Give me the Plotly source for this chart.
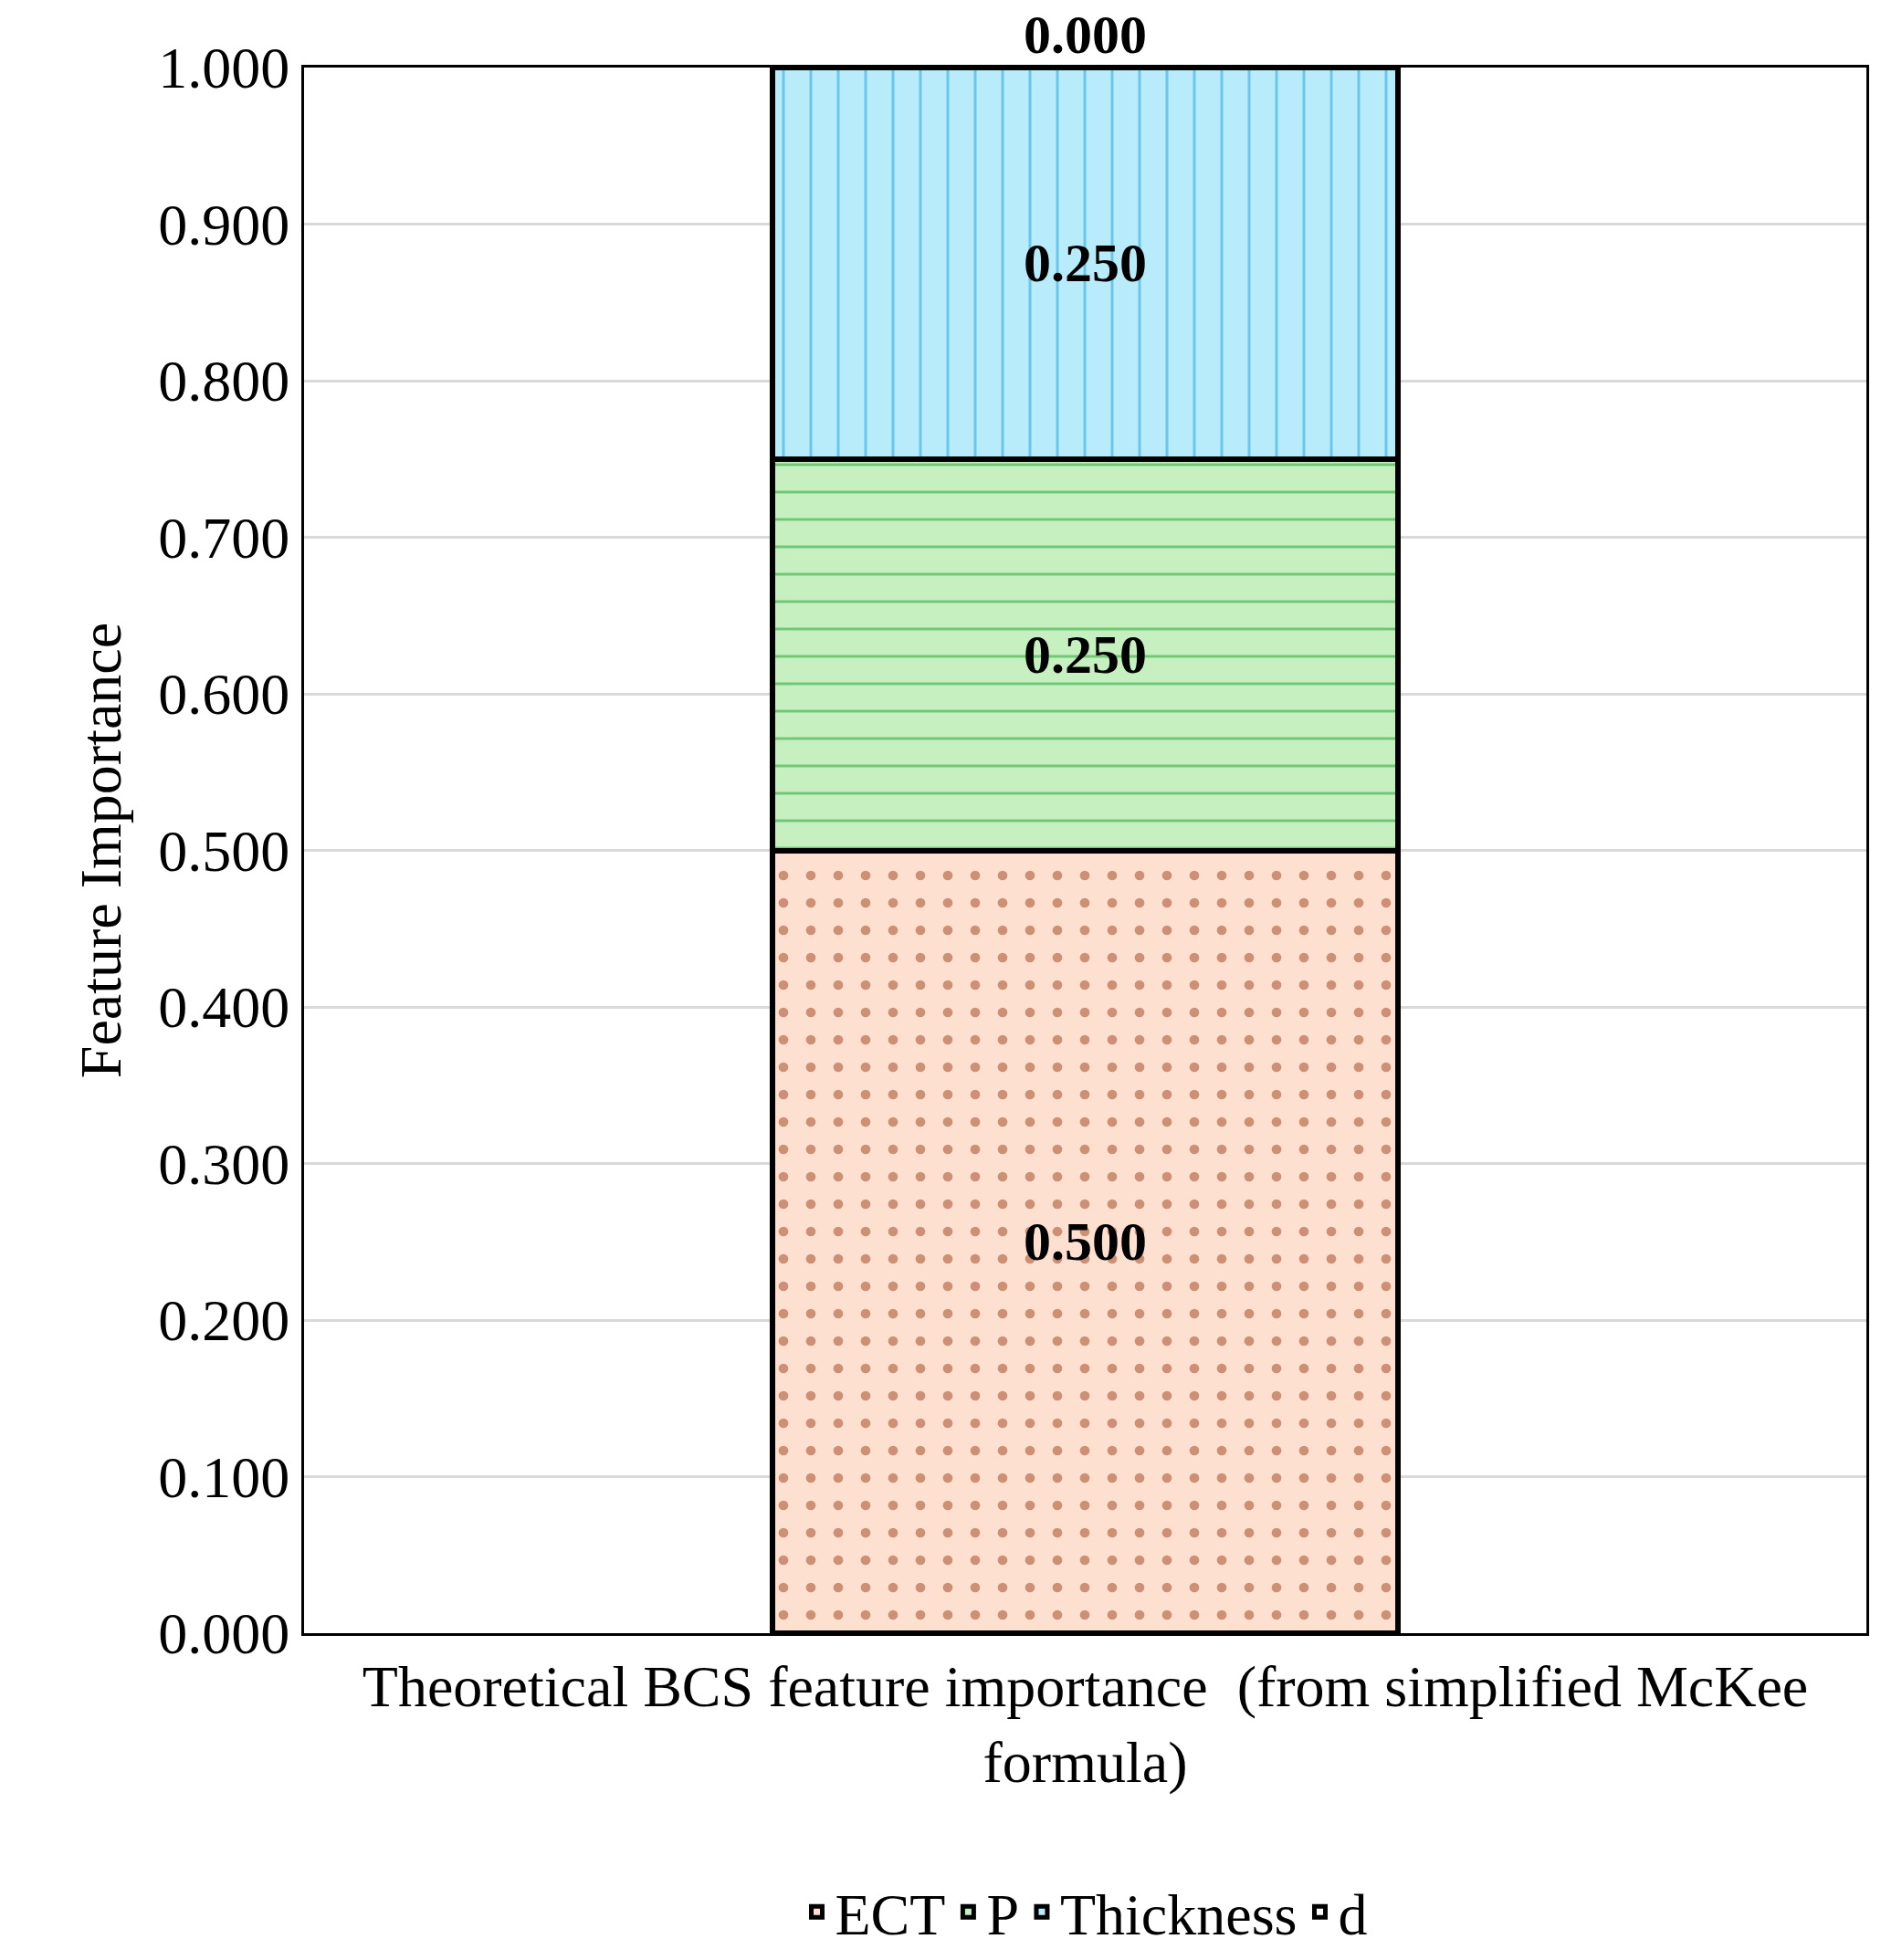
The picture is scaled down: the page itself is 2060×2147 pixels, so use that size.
import plotly.graph_objects as go

categories = ["Theoretical BCS feature importance  (from simplified McKee<br>formula)"]
series = ["ECT", "P", "Thickness", "d"]
values = [[0.5], [0.25], [0.25], [0.0]]
fills = ["#fde0d0", "#c6f0c0", "#b8ecfb"]
pat_colors = ["#a0401a", "#1e9e2e", "#1e9ee0"]
shapes = [".", "-", "|"]
tick_vals = [i / 10 for i in range(11)]
tick_text = [f"{v:.3f}" for v in tick_vals]

font = "Liberation Serif"
fig = go.Figure()
for i, name in enumerate(series):
    if i < 3:
        marker = dict(color=fills[i], line=dict(color="black", width=6),
                      pattern=dict(shape=shapes[i], fgcolor=pat_colors[i], bgcolor=fills[i],
                                   size=30, solidity=0.1, fillmode="overlay"))
        pos = "inside"
    else:
        marker = dict(color="white", line=dict(color="black", width=6))
        pos = "outside"
    fig.add_trace(go.Bar(x=categories, y=values[i], name=name, marker=marker,
                         text=[f"{v:.3f}" for v in values[i]], textposition=pos,
                         insidetextanchor="middle", cliponaxis=False,
                         textfont=dict(family=font, size=60, color="black"),
                         texttemplate="<b>%{text}</b>"))

fig.update_layout(
    barmode="stack", bargap=0.6, width=2060, height=2147,
    margin=dict(l=325, r=24, t=66, b=358),
    plot_bgcolor="white", paper_bgcolor="white",
    font=dict(family=font, size=64, color="black"),
    legend=dict(orientation="h", x=0.5, xanchor="center", y=-0.15, yanchor="top",
                font=dict(size=64), itemwidth=30, traceorder="normal"),
    yaxis=dict(range=[0, 1], tickvals=tick_vals, ticktext=tick_text, showgrid=True,
               gridcolor="#d9d9d9", gridwidth=3, showline=True, linecolor="black",
               linewidth=3, mirror=True, ticks="", zeroline=False,
               title=dict(text="Feature Importance", font=dict(size=64), standoff=20)),
    xaxis=dict(showline=True, linecolor="black", linewidth=3, mirror=True,
               tickfont=dict(size=64)),
    uniformtext=dict(mode=False),
)
fig.write_html("out.html")
